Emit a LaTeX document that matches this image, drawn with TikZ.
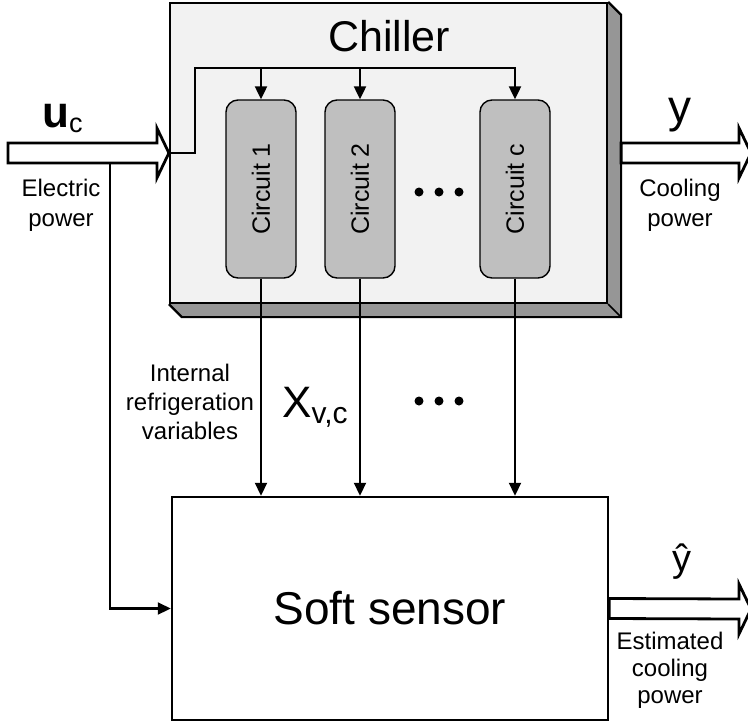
\documentclass[tikz,border=0pt]{standalone}
\usepackage{fontspec}
\setmainfont{Liberation Sans}
\usetikzlibrary{arrows.meta,positioning,calc}
\definecolor{chillerfill}{RGB}{242,242,242}
\definecolor{circuitfill}{RGB}{191,191,191}
\definecolor{bevelgray}{RGB}{150,150,150}
\tikzset{
    % Blocks
    chillerbox/.style={
        rectangle,
        draw=black,
        line width=2.2pt,
        fill=chillerfill,
        minimum width=437pt,
        minimum height=300pt
    },
    circuit/.style={
        rectangle,
        draw=black,
        line width=1.4pt,
        fill=circuitfill,
        rounded corners=12pt,
        minimum width=70pt,
        minimum height=178pt,
        inner sep=0pt,
        font=\fontsize{25}{30}\selectfont
    },
    sensorbox/.style={
        rectangle,
        draw=black,
        line width=2.5pt,
        fill=white,
        minimum width=436pt,
        minimum height=223pt,
        font=\fontsize{46}{50}\selectfont
    },
    % Connectors
    wire/.style={
        line width=2.2pt,
        draw=black,
        -{Triangle[length=13pt,width=12pt]}
    },
    hollow/.style={
        draw=black,
        line width=2.8pt,
        fill=white,
        line join=miter
    },
    % Labels
    bigtext/.style={
        inner sep=0pt,
        font=\fontsize{44}{48}\selectfont
    },
    smalltext/.style={
        inner sep=0pt,
        align=center,
        font=\fontsize{24}{29}\selectfont
    }
}
\newcommand{\hollowarrow}[2]{%
    \draw[hollow] ($(#1)+(0,10)$) -- ($(#2)+(-12,10)$) -- ($(#2)+(-12,25)$) -- (#2)
        -- ($(#2)+(-12,-25)$) -- ($(#2)+(-12,-10)$) -- ($(#1)+(0,-10)$) -- cycle;}
\begin{document}
\begin{tikzpicture}[x=1pt, y=-1pt]
    \useasboundingbox (0,0) rectangle (748,724);

    % Chiller with bevel
    \node[chillerbox] (chiller) at (388.5,153) {};
    \fill[bevelgray] (chiller.north east) -- ++(13,13) -- ($(chiller.south east)+(13,13)$)
        -- ($(chiller.south west)+(13,13)$) -- (chiller.south west) -- (chiller.south east) -- cycle;
    \draw[line width=2.2pt, line join=miter] (chiller.north east) -- ++(13,13) -- ($(chiller.south east)+(13,13)$)
        -- ($(chiller.south west)+(13,13)$) -- (chiller.south west);
    \draw[line width=1.5pt] (chiller.south east) -- ++(13,13);
    \node[bigtext, font=\fontsize{43}{48}\selectfont, anchor=base] (chillertitle) at (389,51) {Chiller};

    % Circuits
    \node[circuit] (c1) at (261,189) {\rotatebox{90}{Circuit 1}};
    \node[circuit] (c2) at (360,189) {\rotatebox{90}{Circuit 2}};
    \node[circuit] (cc) at (515,189) {\rotatebox{90}{Circuit c}};
    \foreach \dx in {419,439,459} {
        \fill (\dx,192) circle (4.5pt);
        \fill (\dx,401) circle (4.5pt);
    }

    % Soft sensor
    \node[sensorbox] (soft) at (390,608.5) {Soft sensor};

    % Coordinates for free ends
    \coordinate (ucin) at (8,153);
    \coordinate (bus) at (195,68);
    \coordinate (ucbranch) at (110,163);
    \coordinate (chillerside) at ($(chiller.east)+(13,0)$);
    \coordinate (yout) at (751,153);
    \coordinate (yhatout) at (751,609);

    % Block arrows
    \hollowarrow{ucin}{chiller.west}
    \hollowarrow{chillerside}{yout}
    \hollowarrow{soft.east}{yhatout}

    % Wires
    \draw[wire] (chiller.west) -| (bus) -| (cc.north);
    \draw[wire] (bus -| c1.north) -- (c1.north);
    \draw[wire] (bus -| c2.north) -- (c2.north);
    \draw[wire] (c1.south) -- (c1.south |- soft.north);
    \draw[wire] (c2.south) -- (c2.south |- soft.north);
    \draw[wire] (cc.south) -- (cc.south |- soft.north);
    \draw[wire] (ucbranch) |- (soft.west);

    % Labels
    \node[bigtext, anchor=base west] (uclabel) at (42,127) {{\bfseries u}\raisebox{-5pt}{\fontsize{27}{27}\selectfont c}};
    \node[smalltext, font=\fontsize{24}{30}\selectfont] (eplabel) at (61,205) {Electric\\power};
    \node[bigtext, font=\fontsize{46}{50}\selectfont] (ylabel) at (680,115) {y};
    \node[smalltext, font=\fontsize{24}{30}\selectfont] (cplabel) at (680,205) {Cooling\\power};
    \node[smalltext] (irvlabel) at (190,402) {Internal\\refrigeration\\variables};
    \node[bigtext, anchor=base west] (xlabel) at (282,417) {X\raisebox{-6pt}{\fontsize{30}{30}\selectfont v,c}};
    \node[bigtext, font=\fontsize{38}{42}\selectfont] (yhatlabel) at (682,562) {ŷ};
    \node[smalltext, font=\fontsize{24}{27}\selectfont] (ecplabel) at (670,670) {Estimated\\cooling\\power};

\end{tikzpicture}
\end{document}
